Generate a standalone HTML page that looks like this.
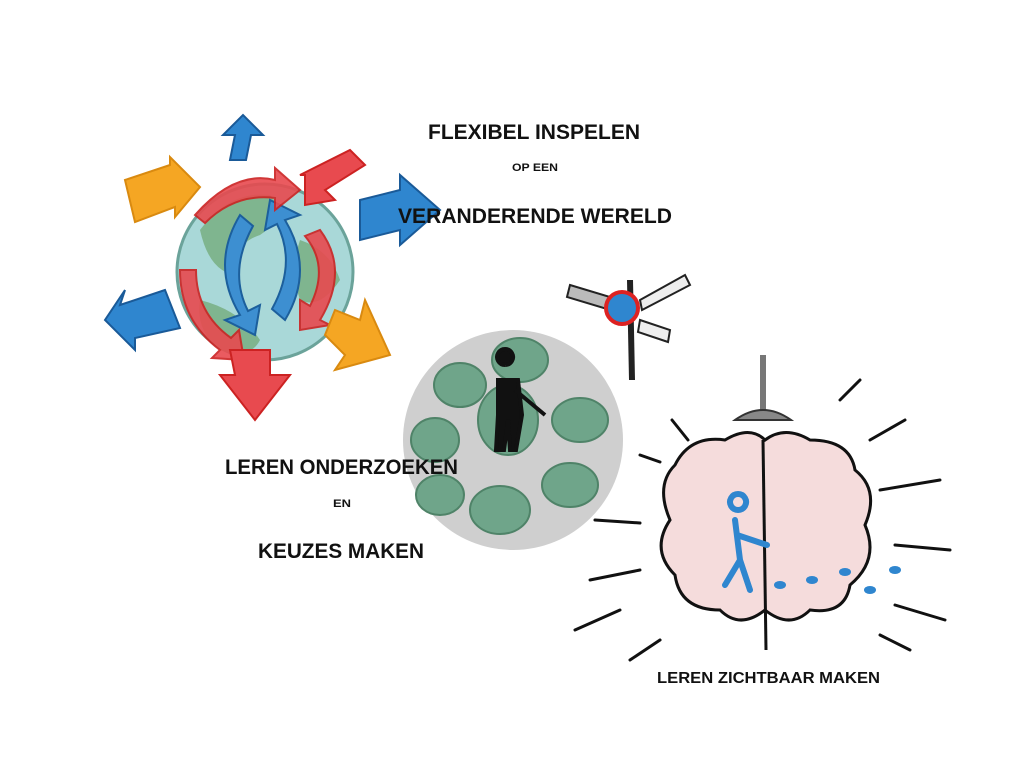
<!DOCTYPE html>
<html><head><meta charset="utf-8"><style>
html,body{margin:0;padding:0;background:#fff;width:1024px;height:768px;overflow:hidden}
svg{display:block}
text{font-family:"Liberation Sans",sans-serif;font-weight:bold;fill:#111}
</style></head><body>
<svg width="1024" height="768" viewBox="0 0 1024 768">
<circle cx="265" cy="272" r="88" fill="#a9d8d8" stroke="#6ba39a" stroke-width="3"/>
<path d="M200 230 q30 -40 70 -35 q20 20 -10 40 q-30 10 -20 40 q-30 0 -40 -45z" fill="#7fb58f"/>
<path d="M200 300 q40 10 60 40 q-10 20 -40 10 q-25 -20 -20 -50z" fill="#7fb58f"/>
<path d="M300 240 q30 10 40 40 q-20 30 -40 20 q-10 -30 0 -60z" fill="#7fb58f"/>
<path d="M240 215 q-30 50 0 100 l-15 5 l30 15 l5 -30 l-12 6 q-20 -40 5 -85z" fill="#3d8fd1" stroke="#1c5f9c" stroke-width="2"/>
<path d="M285 320 q30 -50 0 -100 l15 -5 l-30 -15 l-5 30 l12 -6 q20 40 -5 85z" fill="#3d8fd1" stroke="#1c5f9c" stroke-width="2"/>
<path d="M195 215 q40 -45 80 -35 l0 -12 l25 22 l-25 20 l0 -12 q-40 -5 -70 25z" fill="#e84a4f" stroke="#c22" stroke-width="2" opacity=".9"/>
<path d="M180 270 q0 50 40 80 l-8 8 l32 2 l-5 -30 l-8 8 q-35 -25 -35 -68z" fill="#e84a4f" stroke="#c22" stroke-width="2" opacity=".9"/>
<path d="M300 175 l50 -25 l15 15 l-40 25 l10 10 l-30 5 l0 -30z" fill="#e84a4f" stroke="#c22" stroke-width="2"/>
<path d="M320 230 q30 40 0 90 l10 5 l-30 5 l0 -30 l10 6 q20 -40 -5 -70z" fill="#e84a4f" stroke="#c22" stroke-width="2" opacity=".9"/>
<path d="M230 160 l5 -25 l-12 0 l20 -20 l20 20 l-12 0 l-5 25z" fill="#2f86cf" stroke="#1a5a98" stroke-width="2"/>
<path d="M125 180 l45 -15 l0 -8 l30 30 l-25 30 l0 -10 l-40 15z" fill="#f5a623" stroke="#d98a10" stroke-width="2"/>
<path d="M360 200 l40 -10 l0 -15 l40 35 l-40 35 l0 -15 l-40 10z" fill="#2f86cf" stroke="#1a5a98" stroke-width="2"/>
<path d="M165 290 l-45 15 l5 -15 l-20 30 l30 30 l0 -12 l45 -10z" fill="#2f86cf" stroke="#1a5a98" stroke-width="2"/>
<path d="M230 350 l40 0 l0 25 l20 0 l-35 45 l-35 -45 l15 0z" fill="#e84a4f" stroke="#c22" stroke-width="2"/>
<path d="M335 310 l25 10 l5 -20 l25 55 l-55 15 l10 -15 l-20 -20z" fill="#f5a623" stroke="#d98a10" stroke-width="2"/>
<text x="428" y="139" font-size="21" textLength="212" lengthAdjust="spacingAndGlyphs">FLEXIBEL INSPELEN</text>
<text x="512" y="171" font-size="11" textLength="46" lengthAdjust="spacingAndGlyphs">OP EEN</text>
<text x="398" y="223" font-size="21" textLength="274" lengthAdjust="spacingAndGlyphs">VERANDERENDE WERELD</text>
<line x1="630" y1="280" x2="632" y2="380" stroke="#222" stroke-width="6"/>
<path d="M640 300 l45 -25 l5 10 l-48 25z" fill="#eee" stroke="#222" stroke-width="2"/>
<path d="M640 320 l30 10 l-2 12 l-30 -10z" fill="#eee" stroke="#222" stroke-width="2"/>
<path d="M570 285 l50 15 l-3 12 l-50 -15z" fill="#bbb" stroke="#222" stroke-width="2"/>
<circle cx="622" cy="308" r="16" fill="#2f86cf" stroke="#d22" stroke-width="4"/>
<circle cx="513" cy="440" r="110" fill="#cfcfcf"/>
<g fill="#6fa58a" stroke="#4f8368" stroke-width="2">
<ellipse cx="520" cy="360" rx="28" ry="22"/>
<ellipse cx="460" cy="385" rx="26" ry="22"/>
<ellipse cx="580" cy="420" rx="28" ry="22"/>
<ellipse cx="435" cy="440" rx="24" ry="22"/>
<ellipse cx="570" cy="485" rx="28" ry="22"/>
<ellipse cx="500" cy="510" rx="30" ry="24"/>
<ellipse cx="440" cy="495" rx="24" ry="20"/>
<ellipse cx="508" cy="420" rx="30" ry="35"/>
</g>
<path d="M505 365 a8 8 0 1 1 0.1 0 M498 380 l20 0 l4 35 l-6 35 l-6 0 l-2 -30 l-4 30 l-8 0 l2 -35z M515 390 l30 25" fill="#111" stroke="#111" stroke-width="4"/>
<text x="225" y="474" font-size="21" textLength="233" lengthAdjust="spacingAndGlyphs">LEREN ONDERZOEKEN</text>
<text x="333" y="507" font-size="11" textLength="18" lengthAdjust="spacingAndGlyphs">EN</text>
<text x="258" y="558" font-size="21" textLength="166" lengthAdjust="spacingAndGlyphs">KEUZES MAKEN</text>
<line x1="763" y1="355" x2="763" y2="410" stroke="#777" stroke-width="6"/>
<path d="M735 420 q28 -20 56 0 z" fill="#888" stroke="#333" stroke-width="2"/>
<path d="M675 465 q15 -30 50 -25 q25 -15 40 0 q20 -15 45 0 q40 0 45 30 q25 20 10 55 q15 35 -15 60 q-5 30 -40 25 q-20 20 -45 0 q-25 20 -45 0 q-40 0 -45 -35 q-25 -25 -5 -55 q-15 -35 5 -55z" fill="#f5dcdc" stroke="#111" stroke-width="3"/>
<line x1="763" y1="440" x2="766" y2="650" stroke="#111" stroke-width="3"/>
<path d="M738 510 a8 8 0 1 1 0.1 0 M735 520 l5 40 l-15 25 M740 560 l10 30 M737 535 l30 10" stroke="#2f86cf" stroke-width="6" fill="none" stroke-linecap="round"/>
<g fill="#2f86cf"><ellipse cx="780" cy="585" rx="6" ry="4"/><ellipse cx="812" cy="580" rx="6" ry="4"/><ellipse cx="845" cy="572" rx="6" ry="4"/><ellipse cx="870" cy="590" rx="6" ry="4"/><ellipse cx="895" cy="570" rx="6" ry="4"/></g>
<g stroke="#111" stroke-width="3" stroke-linecap="round">
<line x1="672" y1="420" x2="688" y2="440"/><line x1="640" y1="455" x2="660" y2="462"/><line x1="595" y1="520" x2="640" y2="523"/><line x1="590" y1="580" x2="640" y2="570"/><line x1="575" y1="630" x2="620" y2="610"/><line x1="630" y1="660" x2="660" y2="640"/>
<line x1="840" y1="400" x2="860" y2="380"/><line x1="870" y1="440" x2="905" y2="420"/><line x1="880" y1="490" x2="940" y2="480"/><line x1="895" y1="545" x2="950" y2="550"/><line x1="895" y1="605" x2="945" y2="620"/><line x1="880" y1="635" x2="910" y2="650"/>
</g>
<text x="657" y="683" font-size="16" textLength="223" lengthAdjust="spacingAndGlyphs">LEREN ZICHTBAAR MAKEN</text>
</svg>
</body></html>
